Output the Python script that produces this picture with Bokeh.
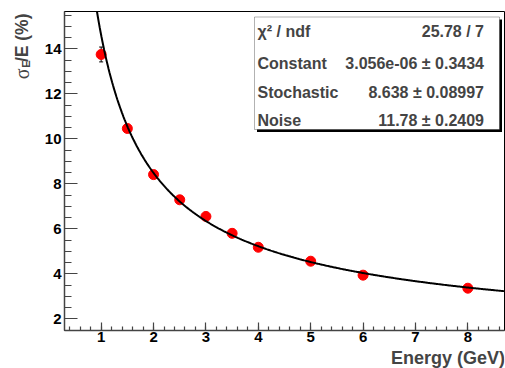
import numpy as np
from bokeh.plotting import figure
from bokeh.layouts import row, column
from bokeh.models import (FixedTicker, Label, BoxAnnotation, ColumnDataSource,
                          Range1d, Whisker, TeeHead)
from bokeh.embed import file_html
from bokeh.resources import INLINE

# ---- data ----
energy = [1.0, 1.5, 2.0, 2.5, 3.0, 3.5, 4.0, 5.0, 6.0, 8.0]
resolution = [13.75, 10.46, 8.41, 7.29, 6.55, 5.80, 5.18, 4.56, 3.94, 3.36]
res_error = [0.33, 0.10, 0.09, 0.08, 0.08, 0.08, 0.07, 0.07, 0.07, 0.07]

fit_constant = 3.056e-06
fit_stochastic = 8.638
fit_noise = 11.78

stats_names = ["χ² / ndf", "Constant", "Stochastic", "Noise"]
stats_values = ["25.78 / 7", "3.056e-06 ± 0.3434", "8.638 ± 0.08997", "11.78 ± 0.2409"]

x_ticks = [1, 2, 3, 4, 5, 6, 7, 8]
y_ticks = [2, 4, 6, 8, 10, 12, 14]
x_range = (0.3, 8.7)
y_range = (1.48, 15.66)

x_title = "Energy (GeV)"

# ---- layout (page pixels) ----
PAGE_W, PAGE_H = 505, 368
STRIP_W = 40           # left strip holding the y title
BOTTOM_H = 20          # bottom strip holding the x title
F_LEFT, F_RIGHT, F_TOP, F_BOTTOM = 64, 504, 11, 330
MAIN_W = PAGE_W - STRIP_W
MAIN_H = PAGE_H - BOTTOM_H
FONT = "Liberation Sans"


def px2x(px):
    return x_range[0] + (px - F_LEFT) / (F_RIGHT - F_LEFT) * (x_range[1] - x_range[0])


def px2y(py):
    return y_range[1] - (py - F_TOP) / (F_BOTTOM - F_TOP) * (y_range[1] - y_range[0])


def strip(width, height, x0, y0):
    s = figure(width=width, height=height, output_backend="svg", toolbar_location=None,
               x_range=Range1d(x0, x0 + width), y_range=Range1d(y0 + height, y0),
               x_axis_type=None, y_axis_type=None, min_border=0)
    s.outline_line_color = None
    s.background_fill_color = "white"
    s.border_fill_color = "white"
    s.xgrid.visible = False
    s.ygrid.visible = False
    return s


p = figure(width=MAIN_W, height=MAIN_H, output_backend="svg", toolbar_location=None,
           x_range=Range1d(*x_range), y_range=Range1d(*y_range),
           min_border_left=F_LEFT - STRIP_W, min_border_right=PAGE_W - F_RIGHT,
           min_border_top=F_TOP, min_border_bottom=MAIN_H - F_BOTTOM)
p.background_fill_color = "white"
p.border_fill_color = "white"
p.outline_line_color = "black"
p.outline_line_width = 1
p.xgrid.visible = False
p.ygrid.visible = False

x_minor = [round(v, 2) for v in np.arange(0.4, 8.7, 0.2)]
y_minor = [round(v, 2) for v in np.arange(1.5, 15.7, 0.5)]
p.xaxis.ticker = FixedTicker(ticks=x_ticks, minor_ticks=x_minor)
p.yaxis.ticker = FixedTicker(ticks=y_ticks, minor_ticks=y_minor)

for ax, tin, min_in, stand in ((p.xaxis, 8, 4, 1), (p.yaxis, 13, 7, 3)):
    ax.major_tick_in = tin
    ax.major_tick_out = 0
    ax.minor_tick_in = min_in
    ax.minor_tick_out = 0
    ax.axis_line_color = "#444444"
    ax.axis_line_width = 1.5
    ax.major_tick_line_color = "#444444"
    ax.minor_tick_line_color = "#444444"
    ax.major_tick_line_width = 1.2
    ax.minor_tick_line_width = 1.2
    ax.major_label_text_font = FONT
    ax.major_label_text_font_style = "bold"
    ax.major_label_text_font_size = "15px"
    ax.major_label_text_color = "black"
    ax.major_label_standoff = stand

# ---- data points ----
src = ColumnDataSource(dict(
    x=energy, y=resolution,
    lo=[r - e for r, e in zip(resolution, res_error)],
    hi=[r + e for r, e in zip(resolution, res_error)]))
p.scatter("x", "y", source=src, size=10, color="red")
p.add_layout(Whisker(source=src, base="x", lower="lo", upper="hi",
                     line_color="black", line_width=1,
                     upper_head=TeeHead(size=4, line_color="black"),
                     lower_head=TeeHead(size=4, line_color="black")))

# ---- fit function ----
fx = np.linspace(x_range[0], x_range[1], 500)
fy = np.sqrt(fit_constant ** 2 + fit_stochastic ** 2 / fx + fit_noise ** 2 / fx ** 2)
p.line(fx, fy, line_color="black", line_width=2)

# ---- stats box ----
p.add_layout(BoxAnnotation(left=px2x(256.5), right=px2x(501.5), top=px2y(19), bottom=px2y(131.5),
                           fill_color="black", fill_alpha=1, line_alpha=0))
p.add_layout(BoxAnnotation(left=px2x(254), right=px2x(499), top=px2y(16.5), bottom=px2y(129),
                           fill_color="white", fill_alpha=1, line_color="black", line_width=1))
row_mid = [30.5, 62.8, 91.8, 120.0]
for name, val, ym in zip(stats_names, stats_values, row_mid):
    p.add_layout(Label(x=px2x(257), y=px2y(ym), text=name, text_font=FONT,
                       text_font_style="bold", text_font_size="16px",
                       text_align="left", text_baseline="middle"))
    p.add_layout(Label(x=px2x(483.5), y=px2y(ym), text=val, text_font=FONT,
                       text_font_style="bold", text_font_size="16px",
                       text_align="right", text_baseline="middle"))

# ---- y title (left strip, coordinates = page pixels) ----
left = strip(STRIP_W, PAGE_H, 0, 0)
ang = np.pi / 2
left.add_layout(Label(x=21.5, y=13, text="/E (%)", angle=ang, text_font=FONT,
                      text_font_style="bold", text_font_size="17.5px",
                      text_align="right", text_baseline="middle"))
left.add_layout(Label(x=25.5, y=60, text="E", angle=ang, text_font=FONT,
                      text_font_style="bold", text_font_size="11px",
                      text_align="right", text_baseline="middle"))
left.add_layout(Label(x=21, y=68, text="σ", angle=ang, text_font="Liberation Serif",
                      text_font_size="20px", text_align="right", text_baseline="middle"))

# ---- x title (bottom strip) ----
bottom = strip(MAIN_W, BOTTOM_H, STRIP_W, MAIN_H)
bottom.add_layout(Label(x=505.5, y=357.6, text=x_title, text_font=FONT,
                        text_font_style="bold", text_font_size="18px",
                        text_align="right", text_baseline="middle"))

layout = row(left, column(p, bottom, spacing=0), spacing=0)
open("out.html", "w").write(file_html(layout, INLINE))
